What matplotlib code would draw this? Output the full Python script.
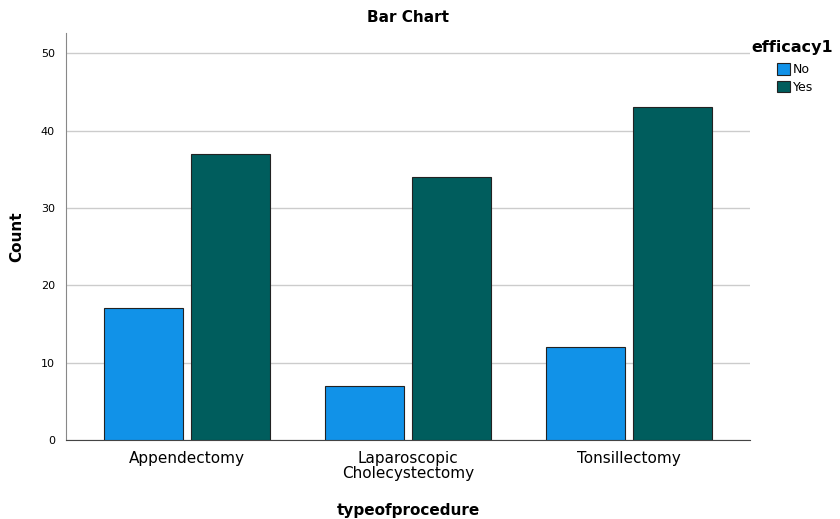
import numpy as np
import matplotlib.pyplot as plt
from matplotlib.patches import Patch

procedures = ["Appendectomy", "Laparoscopic\nCholecystectomy", "Tonsillectomy"]
count_no = [17, 7, 12]
count_yes = [37, 34, 43]
series = ["No", "Yes"]
colors = ["#1192e8", "#005d5d"]

fig = plt.figure(figsize=(8.4, 5.19), dpi=100)
ax = fig.add_axes([0.0786, 0.1522, 0.8144, 0.7842])

x = np.arange(len(procedures))
w = 0.357
off = 0.197
ax.bar(x - off, count_no, w, color=colors[0], edgecolor="#222222", linewidth=0.8, zorder=3)
ax.bar(x + off, count_yes, w, color=colors[1], edgecolor="#222222", linewidth=0.8, zorder=3)

ax.set_xlim(-0.548, 2.548)
ax.set_ylim(0, 52.6)
ax.set_yticks([0, 10, 20, 30, 40, 50])
ax.yaxis.grid(True, color="#cccccc", linewidth=1, zorder=0)
ax.set_xticks(x)
ax.set_xticklabels(procedures, fontsize=11, linespacing=0.95)
ax.tick_params(axis="y", labelsize=8, length=0, pad=8)
ax.tick_params(axis="x", length=0, pad=8)

for s in ["top", "right"]:
    ax.spines[s].set_visible(False)
ax.spines["left"].set_color("#888888")
ax.spines["bottom"].set_color("#444444")

ax.set_title("Bar Chart", fontsize=11, fontweight="bold", pad=8)
ax.set_ylabel("Count", fontsize=11, fontweight="bold", labelpad=12)
ax.set_xlabel("typeofprocedure", fontsize=11, fontweight="bold", labelpad=16)

# legend title drawn separately so entries can be indented like the original
fig.text(0.895, 0.908, "efficacy1", fontsize=11.5, fontweight="bold", va="center", ha="left")
handles = [Patch(facecolor=c, edgecolor="#222222", linewidth=0.8) for c in colors]
fig.legend(handles, series, loc="upper left", bbox_to_anchor=(0.925, 0.878),
           frameon=False, fontsize=9, borderaxespad=0, borderpad=0,
           handlelength=1.0, handleheight=1.0, handletextpad=0.3,
           labelspacing=0.35)

fig.savefig("out.png", dpi=100)
